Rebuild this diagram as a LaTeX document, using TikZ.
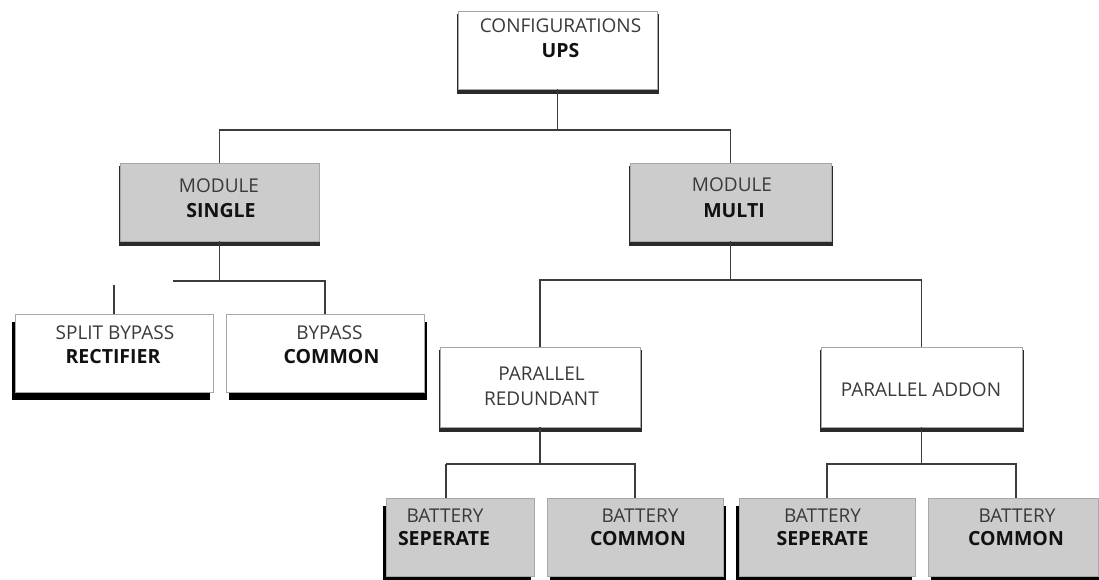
\documentclass[tikz,border=0pt]{standalone}
\usepackage{fontspec}
\setmainfont{Open Sans}
\usetikzlibrary{shadows}
\definecolor{lighttext}{HTML}{3A3A3A}
\definecolor{boldtext}{HTML}{111111}
\definecolor{boxedge}{HTML}{A8A8A8}
\definecolor{boxgray}{HTML}{CCCCCC}
\definecolor{wire}{HTML}{3C3C3C}
\definecolor{deepshadow}{HTML}{2A2A2A}
\tikzset{
  basebox/.style={draw=boxedge, line width=0.8pt, inner sep=0pt, outer sep=0pt},
  flatleft/.style={basebox, general shadow={fill=black, shadow xshift=-3pt, shadow yshift=-8pt}},
  flatright/.style={basebox, general shadow={fill=black, shadow xshift=3pt, shadow yshift=-8pt}},
  raised/.style={basebox, general shadow={fill=deepshadow, shadow scale=1.015, shadow yshift=-4pt}},
  whitefill/.style={fill=white},
  grayfill/.style={fill=boxgray},
  lt/.style={anchor=base, inner sep=0pt, font=\fontsize{19}{23}\selectfont, text=lighttext},
  bt/.style={anchor=base, inner sep=0pt, font=\fontsize{19.5}{23}\selectfont\bfseries, text=boldtext},
  conn/.style={draw=wire, line width=1.1pt},
}
\begin{document}
\begin{tikzpicture}[x=1pt, y=-1pt]
\useasboundingbox (0,0) rectangle (1099,580);
% boxes
\node[raised, whitefill, minimum width=199pt, minimum height=78pt] (ups) at (557.5,50) {};
\node[raised, grayfill, minimum width=199pt, minimum height=78pt] (single) at (219.5,202) {};
\node[raised, grayfill, minimum width=201pt, minimum height=78pt] (multi) at (730.5,202) {};
\node[flatleft, whitefill, minimum width=198pt, minimum height=78pt] (split) at (114,353) {};
\node[flatright, whitefill, minimum width=198pt, minimum height=78pt] (bypass) at (325,353) {};
\node[raised, whitefill, minimum width=200pt, minimum height=80pt] (predund) at (540,387) {};
\node[raised, whitefill, minimum width=201pt, minimum height=80pt] (paddon) at (921.5,387) {};
\node[flatleft, grayfill, minimum width=148pt, minimum height=78pt] (batA) at (460,537) {};
\node[flatright, grayfill, minimum width=176pt, minimum height=78pt] (batB) at (635,537) {};
\node[flatleft, grayfill, minimum width=176pt, minimum height=78pt] (batC) at (827,537) {};
\node[flatright, grayfill, minimum width=170pt, minimum height=78pt] (batD) at (1013,537) {};
% texts
\node[lt] (upsA) at (560.5,33) {CONFIGURATIONS};
\node[bt] (upsB) at (560.5,58) {UPS};
\node[lt] (singleA) at (219,193) {MODULE};
\node[bt] (singleB) at (221,217) {SINGLE};
\node[lt] (multiA) at (732,191) {MODULE};
\node[bt] (multiB) at (734,217) {MULTI};
\node[lt] (splitA) at (115,339) {SPLIT BYPASS};
\node[bt] (splitB) at (113,363) {RECTIFIER};
\node[lt] (bypassA) at (329.5,339) {BYPASS};
\node[bt] (bypassB) at (331.5,363) {COMMON};
\node[lt] (predundA) at (541.5,380) {PARALLEL};
\node[lt] (predundB) at (541.5,405) {REDUNDANT};
\node[lt] (paddonA) at (921,396) {PARALLEL ADDON};
\node[lt] (batAa) at (445,522) {BATTERY};
\node[bt] (batAb) at (444,545) {SEPERATE};
\node[lt] (batBa) at (640,522) {BATTERY};
\node[bt] (batBb) at (638,545) {COMMON};
\node[lt] (batCa) at (822.5,522) {BATTERY};
\node[bt] (batCb) at (822.5,545) {SEPERATE};
\node[lt] (batDa) at (1017,522) {BATTERY};
\node[bt] (batDb) at (1016,545) {COMMON};
% connectors
\coordinate (busTop) at (0,130);
\draw[conn] (ups.south) -- (ups.south |- busTop);
\draw[conn] (single.north) |- (multi.north |- busTop) -- (multi.north);
\coordinate (busSingle) at (173,281);
\draw[conn] (single.south) -- (single.south |- busSingle);
\draw[conn] (busSingle) -- (bypass.north |- busSingle) -- (bypass.north);
\coordinate (stub) at (114,285);
\draw[conn] (stub) -- (split.north);
\coordinate (busMulti) at (0,280);
\draw[conn] (multi.south) -- (multi.south |- busMulti);
\draw[conn] (predund.north) |- (paddon.north |- busMulti) -- (paddon.north);
\coordinate (busLeft) at (446,464);
\draw[conn] (predund.south) -- (predund.south |- busLeft);
\draw[conn] (busLeft) -- (busLeft |- batA.north);
\draw[conn] (busLeft) -- (batB.north |- busLeft) -- (batB.north);
\coordinate (busRight) at (827,464);
\draw[conn] (paddon.south) -- (paddon.south |- busRight);
\draw[conn] (batC.north) |- (1016,464) coordinate (busRightEnd) -- (busRightEnd |- batD.north);
\end{tikzpicture}
\end{document}
